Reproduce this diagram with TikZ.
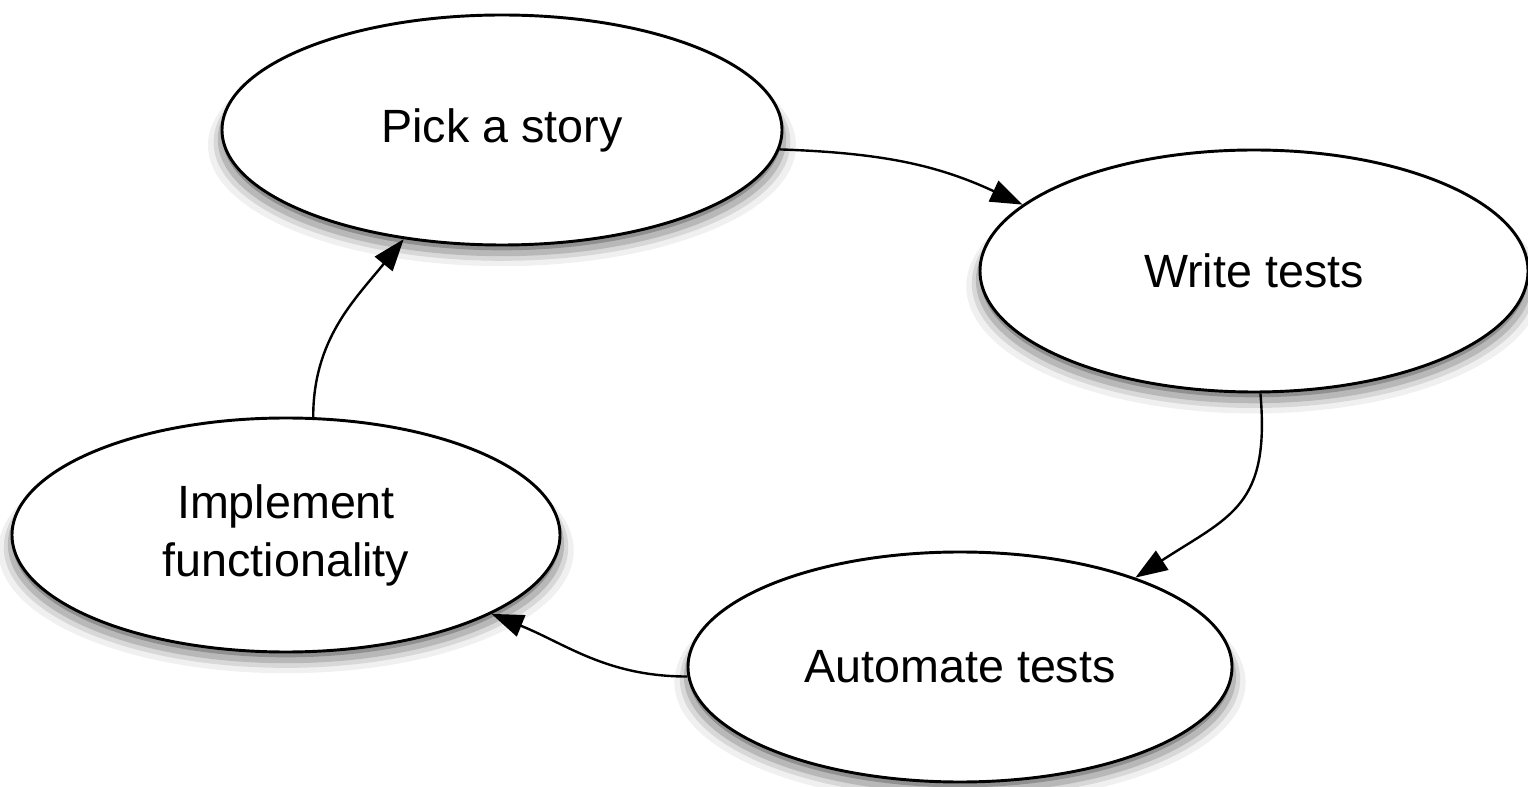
\documentclass[tikz,border=0pt]{standalone}
\usepackage{fontspec}
\setmainfont{Liberation Sans}
\usetikzlibrary{shapes.geometric,shadows,arrows.meta}

\tikzset{every picture/.style={line width=0.75pt}}
\tikzset{
  stage/.style={draw, ellipse, fill=white, line width=2.2pt, inner sep=0pt, align=center,
    font=\fontsize{35}{43.5}\selectfont,
    general shadow={fill=black, opacity=0.06, shadow yshift=-11pt, shadow scale=1.05},
    general shadow={fill=black, opacity=0.10, shadow yshift=-9pt, shadow scale=1.03},
    general shadow={fill=black, opacity=0.15, shadow yshift=-7pt, shadow scale=1.015},
    general shadow={fill=black, opacity=0.22, shadow yshift=-4pt, shadow scale=1.0}},
  flow/.style={-{Triangle[length=24pt,width=17pt]}, line width=1.8pt}
}

\begin{document}
\begin{tikzpicture}[x=0.75pt,y=0.75pt,yscale=-1,xscale=1]
\useasboundingbox (0,0) rectangle (1528,787);

% Stages
\node [stage, minimum width=420pt, minimum height=172.5pt] (pick) at (502,130) {Pick a story};
\node [stage, minimum width=411pt, minimum height=181.5pt] (write) at (1254,271) {Write tests};
\node [stage, minimum width=408pt, minimum height=172.5pt] (automate) at (960,667) {Automate tests};
\node [stage, minimum width=411pt, minimum height=175.5pt] (implement) at (286,535) {Implement\\functionality};

% Cycle (angles flipped, yscale=-1)
\draw [flow] (pick.-4) to[out=2,in=-155] (write.164);
\draw [flow] (write.-87) to[out=85,in=-33,looseness=1.3] (automate.27);
\draw [flow] (automate.182) to[out=180,in=22] (implement.-21);
\draw [flow] (implement.77) to[out=-90,in=129] (pick.228);

\end{tikzpicture}
\end{document}
